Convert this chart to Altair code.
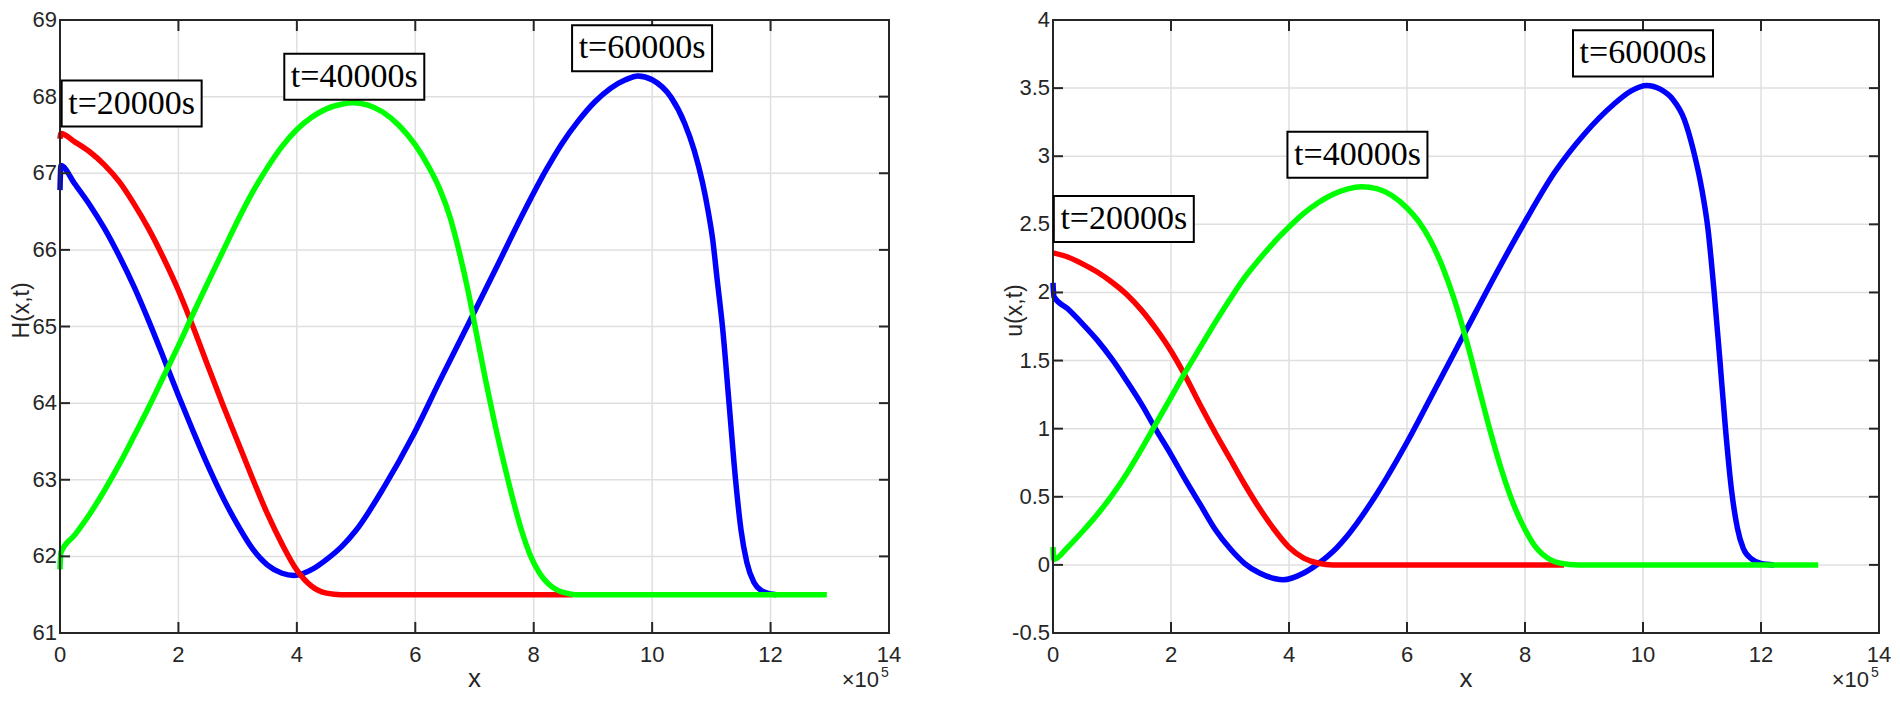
import altair as alt
import pandas as pd

# ---------------- data (x in units of 1e5, axis multiplier x10^5) ----------------
x_ticks = [0, 2, 4, 6, 8, 10, 12, 14]
x_tick_labels = ['0', '2', '4', '6', '8', '10', '12', '14']
h_ticks = [61, 62, 63, 64, 65, 66, 67, 68, 69]
h_tick_labels = ['61', '62', '63', '64', '65', '66', '67', '68', '69']
u_ticks = [-0.5, 0, 0.5, 1, 1.5, 2, 2.5, 3, 3.5, 4]
u_tick_labels = ['-0.5', '0', '0.5', '1', '1.5', '2', '2.5', '3', '3.5', '4']

# H(x,t)
H20_x = [0, 0.015, 0.25, 0.5, 0.75, 1.0, 1.25, 1.5, 1.75, 2.0, 2.25, 2.5, 2.75, 3.0, 3.25, 3.5,
         3.75, 4.0, 4.25, 4.5, 4.75, 8.66]
H20_y = [67.45, 67.52, 67.41, 67.28, 67.11, 66.89, 66.6, 66.27, 65.89, 65.47, 64.99, 64.48, 63.98, 63.5,
         63.02, 62.56, 62.16, 61.82, 61.61, 61.52, 61.5, 61.5]

H40_x = [0, 0.015, 0.25, 0.5, 0.75, 1.0, 1.25, 1.5, 1.75, 2.0, 2.25, 2.5, 2.75, 3.0, 3.25, 3.5, 3.75,
         4.0, 4.25, 4.5, 4.75, 4.94, 5.2, 5.45, 5.73, 6.0, 6.23, 6.41, 6.59, 6.74, 6.89, 7.04, 7.19, 7.34,
         7.49, 7.64, 7.79, 7.95, 8.1, 8.25, 8.4, 8.55, 8.7, 12.95]
H40_y = [61.83, 62.05, 62.28, 62.55, 62.86, 63.2, 63.57, 63.95, 64.35, 64.75, 65.17, 65.58, 65.98, 66.38,
         66.75, 67.07, 67.35, 67.57, 67.73, 67.84, 67.9, 67.92, 67.89, 67.8, 67.62, 67.37, 67.08, 66.8,
         66.42, 65.98, 65.47, 64.88, 64.29, 63.74, 63.24, 62.77, 62.35, 62.0, 61.78, 61.64, 61.56, 61.52,
         61.5, 61.5]

H60_x = [0, 0.015, 0.25, 0.5, 0.75, 1.0, 1.25, 1.5, 1.75, 2.0, 2.25, 2.5, 2.75, 3.0, 3.25, 3.5, 3.75,
         3.95, 4.28, 4.52, 4.76, 5.0, 5.47, 5.95, 6.42, 6.9, 7.37, 7.85, 8.2, 8.47, 8.75, 9.03, 9.3, 9.55,
         9.76, 10.0, 10.32, 10.55, 10.71, 10.85, 10.94, 11.02, 11.1, 11.19, 11.3, 11.41, 11.5, 11.6,
         11.72, 11.85, 12.0, 12.1]
H60_y = [66.78, 67.1, 66.86, 66.59, 66.28, 65.92, 65.52, 65.07, 64.59, 64.1, 63.63, 63.18, 62.77, 62.41,
         62.1, 61.89, 61.78, 61.75, 61.84, 61.97, 62.13, 62.34, 62.9, 63.56, 64.3, 65.04, 65.77, 66.52,
         67.03, 67.38, 67.68, 67.93, 68.11, 68.22, 68.27, 68.22, 67.99, 67.65, 67.3, 66.88, 66.53, 66.15,
         65.6, 64.98, 63.99, 62.99, 62.35, 61.92, 61.66, 61.55, 61.51, 61.5]

# u(x,t)
U20_x = [0, 0.25, 0.5, 0.75, 1.0, 1.25, 1.5, 1.75, 2.0, 2.25, 2.5, 2.75, 3.0, 3.25, 3.5, 3.75, 4.0,
         4.25, 4.5, 4.75, 8.66]
U20_y = [2.29, 2.26, 2.21, 2.15, 2.075, 1.985, 1.87, 1.73, 1.57, 1.38, 1.17, 0.97, 0.78, 0.59, 0.415,
         0.26, 0.13, 0.05, 0.012, 0.0, 0.0]

U40_x = [0, 0.015, 0.25, 0.5, 0.75, 1.0, 1.25, 1.5, 1.75, 2.0, 2.25, 2.5, 2.75, 3.0, 3.25, 3.5, 3.75,
         4.0, 4.25, 4.5, 4.75, 5.0, 5.23, 5.5, 5.75, 6.0, 6.2, 6.4, 6.6, 6.8, 7.0, 7.2, 7.4, 7.6, 7.8, 8.0,
         8.2, 8.4, 8.6, 8.9, 12.97]
U40_y = [0.13, 0.04, 0.13, 0.245, 0.37, 0.51, 0.67, 0.85, 1.04, 1.23, 1.42, 1.6, 1.78, 1.95, 2.11, 2.245,
         2.37, 2.48, 2.58, 2.66, 2.72, 2.76, 2.775, 2.76, 2.71, 2.62, 2.52, 2.38, 2.19, 1.95, 1.66, 1.33,
         1.0, 0.7, 0.45, 0.26, 0.12, 0.045, 0.012, 0.0, 0.0]

U60_x = [0, 0.015, 0.25, 0.5, 0.75, 1.0, 1.25, 1.5, 1.75, 2.0, 2.25, 2.5, 2.75, 3.0, 3.25, 3.5, 3.75,
         3.9, 4.25, 4.5, 4.75, 5.0, 5.5, 6.0, 6.5, 7.0, 7.5, 8.0, 8.5, 9.0, 9.5, 9.8, 10.06, 10.3, 10.5,
         10.7, 10.85, 11.0, 11.1, 11.2, 11.3, 11.4, 11.5, 11.6, 11.7, 11.85, 12.0, 12.22]
U60_y = [2.07, 1.97, 1.88, 1.77, 1.65, 1.51, 1.35, 1.18, 0.99, 0.81, 0.62, 0.44, 0.26, 0.12, 0.01, -0.06,
         -0.10, -0.11, -0.06, 0.01, 0.1, 0.22, 0.53, 0.9, 1.31, 1.72, 2.13, 2.52, 2.88, 3.16, 3.38, 3.48,
         3.52, 3.49, 3.42, 3.27, 3.05, 2.75, 2.47, 2.03, 1.52, 0.99, 0.55, 0.27, 0.12, 0.04, 0.01, 0.0]

ann_text = ["t=20000s", "t=40000s", "t=60000s"]
annH_x = [1.21, 4.97, 9.83]
annH_y = [67.91, 68.26, 68.63]
annU_x = [1.20, 5.16, 10.0]
annU_y = [2.54, 3.01, 3.755]

# ---------------- styling ----------------
AX = '#262626'
GRID = '#dfdfdf'
SANS = 'Liberation Sans'
SERIF = 'Liberation Serif'
BOX_PATH = "M-1,-0.3286L1,-0.3286L1,0.3286L-1,0.3286Z"
RED, GREEN, BLUE = '#ff0000', '#00ff00', '#0000ff'


def panel(series, x_range, y_dom, y_range, y_ticks, y_labels, y_title, ann_x, ann_y):
    y0, y1 = y_dom
    ymid = (y0 + y1) / 2
    xs = alt.Scale(domain=[0, 14], range=x_range, nice=False, zero=False)
    ys = alt.Scale(domain=y_dom, range=y_range, nice=False, zero=False)
    one = pd.DataFrame({'k': [0]})
    xt = pd.DataFrame({'v': x_ticks, 'lab': x_tick_labels})
    yt = pd.DataFrame({'v': y_ticks, 'lab': y_labels})

    layers = []
    # grid
    layers.append(alt.Chart(xt).mark_rule(color=GRID, strokeWidth=1.5).encode(
        x=alt.X('v:Q', axis=None), y=alt.YDatum(y0, axis=None), y2=alt.datum(y1)))
    layers.append(alt.Chart(yt).mark_rule(color=GRID, strokeWidth=1.5).encode(
        y=alt.Y('v:Q', axis=None), x=alt.XDatum(0, axis=None), x2=alt.datum(14)))
    # curves
    first = True
    for xs_list, ys_list, col in series:
        df = pd.DataFrame({'x': xs_list, 'y': ys_list})
        if first:
            enc = dict(x=alt.X('x:Q', scale=xs, axis=None), y=alt.Y('y:Q', scale=ys, axis=None))
            first = False
        else:
            enc = dict(x=alt.X('x:Q', axis=None), y=alt.Y('y:Q', axis=None))
        layers.append(alt.Chart(df).mark_line(color=col, strokeWidth=5.5, interpolate='monotone').encode(**enc))
    # box
    layers.append(alt.Chart(one).mark_rect(fillOpacity=0, stroke=AX, strokeWidth=2).encode(
        x=alt.XDatum(0, axis=None), x2=alt.datum(14), y=alt.YDatum(y0, axis=None), y2=alt.datum(y1)))
    # inward ticks
    layers.append(alt.Chart(xt).mark_rule(color=AX, strokeWidth=2, y2Offset=-11).encode(
        x=alt.X('v:Q', axis=None), y=alt.YDatum(y0, axis=None), y2=alt.datum(y0)))
    layers.append(alt.Chart(xt).mark_rule(color=AX, strokeWidth=2, y2Offset=11).encode(
        x=alt.X('v:Q', axis=None), y=alt.YDatum(y1, axis=None), y2=alt.datum(y1)))
    layers.append(alt.Chart(yt).mark_rule(color=AX, strokeWidth=2, x2Offset=10).encode(
        y=alt.Y('v:Q', axis=None), x=alt.XDatum(0, axis=None), x2=alt.datum(0)))
    layers.append(alt.Chart(yt).mark_rule(color=AX, strokeWidth=2, x2Offset=-10).encode(
        y=alt.Y('v:Q', axis=None), x=alt.XDatum(14, axis=None), x2=alt.datum(14)))
    # tick labels
    layers.append(alt.Chart(xt).mark_text(font=SANS, fontSize=22, color=AX, align='center',
                                          baseline='top', dy=12).encode(
        x=alt.X('v:Q', axis=None), y=alt.YDatum(y0, axis=None), text='lab:N'))
    layers.append(alt.Chart(yt).mark_text(font=SANS, fontSize=22, color=AX, align='right',
                                          baseline='middle', dx=-3).encode(
        y=alt.Y('v:Q', axis=None), x=alt.XDatum(0, axis=None), text='lab:N'))
    # axis titles
    layers.append(alt.Chart(one).mark_text(text='x', font=SANS, fontSize=26, color=AX, align='center',
                                           baseline='alphabetic', dy=54).encode(
        x=alt.XDatum(7, axis=None), y=alt.YDatum(y0, axis=None)))
    layers.append(alt.Chart(one).mark_text(text=y_title, font=SANS, fontSize=23, color=AX, align='center',
                                           baseline='alphabetic', angle=270, dx=16, dy=-31).encode(
        x=alt.XDatum(0, axis=None), y=alt.YDatum(ymid, axis=None)))
    # annotations
    ann = pd.DataFrame({'label': ann_text, 'ax': ann_x, 'ay': ann_y})
    layers.append(alt.Chart(ann).mark_point(shape=BOX_PATH, size=19600, filled=True, fill='white',
                                            stroke='black', strokeWidth=2, opacity=1).encode(
        x=alt.X('ax:Q', axis=None), y=alt.Y('ay:Q', axis=None)))
    layers.append(alt.Chart(ann).mark_text(font=SERIF, fontSize=34, color='black', align='center',
                                           baseline='middle').encode(
        x=alt.X('ax:Q', axis=None), y=alt.Y('ay:Q', axis=None), text='label:N'))
    # x10^5 multiplier
    layers.append(alt.Chart(one).mark_text(text='×10', font=SANS, fontSize=22, color=AX, align='right',
                                           baseline='alphabetic', dx=-10, dy=54).encode(
        x=alt.XDatum(14, axis=None), y=alt.YDatum(y0, axis=None)))
    layers.append(alt.Chart(one).mark_text(text='5', font=SANS, fontSize=14, color=AX, align='left',
                                           baseline='alphabetic', dx=-8, dy=44).encode(
        x=alt.XDatum(14, axis=None), y=alt.YDatum(y0, axis=None)))
    return alt.layer(*layers)


left = panel([(H60_x, H60_y, BLUE), (H20_x, H20_y, RED), (H40_x, H40_y, GREEN)],
             [52, 881], [61, 69], [625, 12], h_ticks, h_tick_labels, 'H(x,t)', annH_x, annH_y)
right = panel([(U60_x, U60_y, BLUE), (U20_x, U20_y, RED), (U40_x, U40_y, GREEN)],
              [1045, 1871], [-0.5, 4], [625, 12], u_ticks, u_tick_labels, 'u(x,t)', annU_x, annU_y)

chart = alt.layer(left, right).resolve_scale(x='independent', y='independent').properties(
    width=1884, height=625, padding=0, background='white'
).configure_view(strokeOpacity=0)

chart.save("out.html", embed_options={"renderer": "svg", "actions": False})
